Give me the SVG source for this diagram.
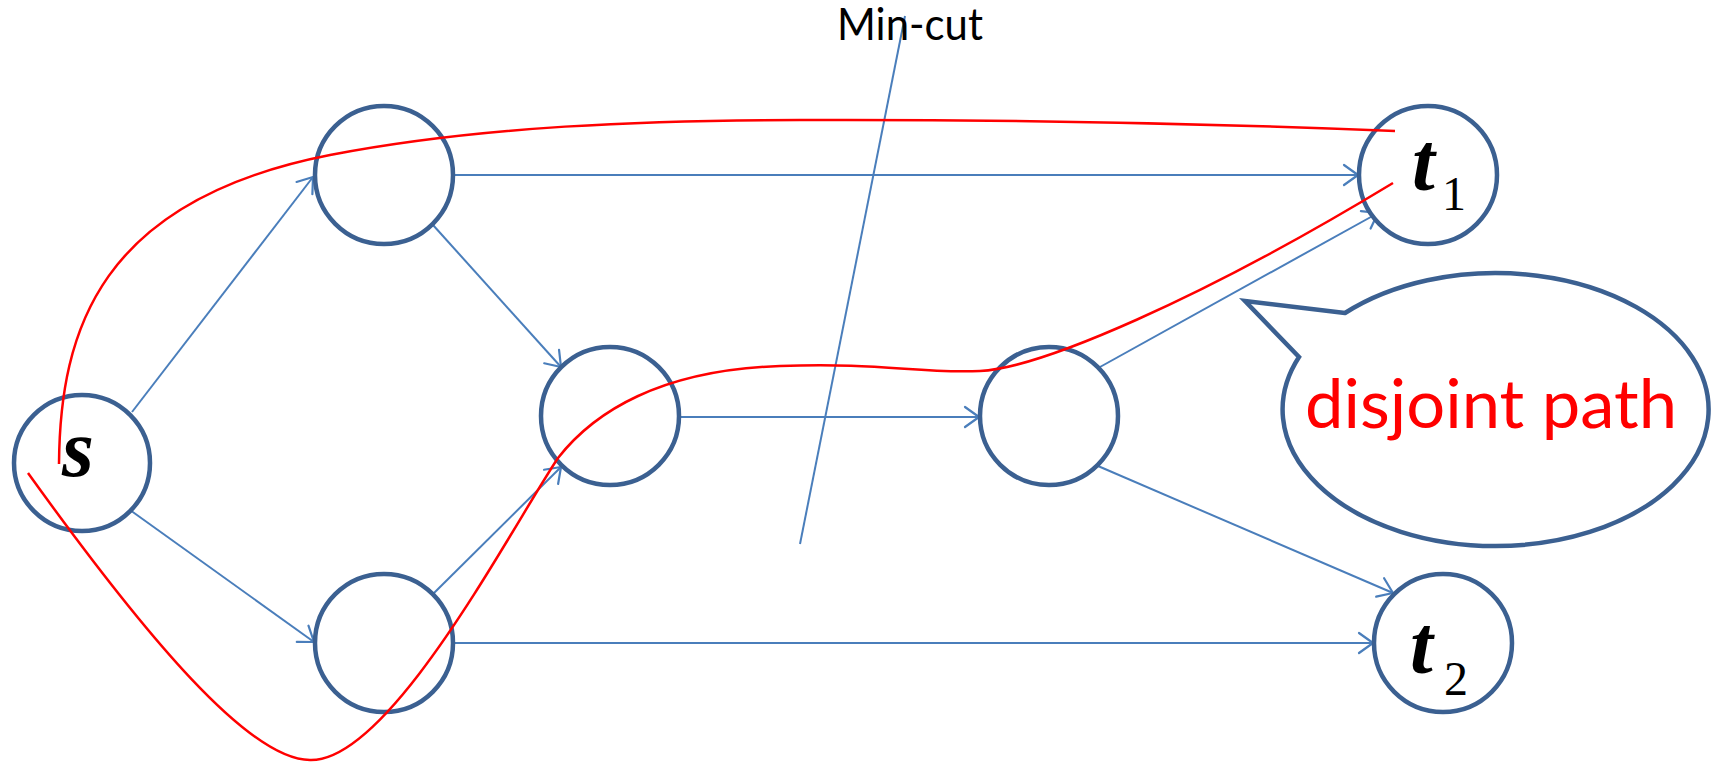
<svg xmlns="http://www.w3.org/2000/svg" width="1717" height="762" viewBox="0 0 1717 762">
<style>
.node{fill:#fff;stroke:#3B6091;stroke-width:4.5}
.edge{fill:none;stroke:#4A7EBB;stroke-width:2;marker-end:url(#arr)}
.red{fill:none;stroke:#FF0000;stroke-width:2.5}
.math{font-family:"Liberation Serif",serif;font-style:italic;font-weight:bold;font-size:82px;fill:#000}
.sub{font-family:"Liberation Serif",serif;font-size:48px;fill:#000}
</style>
<defs>
<marker id="arr" markerUnits="userSpaceOnUse" markerWidth="20" markerHeight="26" refX="16" refY="12" orient="auto" overflow="visible">
<path d="M2,2 L16,12 L2,22" fill="none" stroke="#4A7EBB" stroke-width="2.2" stroke-linejoin="round" stroke-linecap="round"/>
</marker>
</defs>
<rect width="1717" height="762" fill="#fff"/>
<g id="mincut">
<line x1="905" y1="16" x2="800" y2="544" stroke="#4A7EBB" stroke-width="2"/>
<text x="837" y="40" font-family="Lato, sans-serif" font-size="44" textLength="146" lengthAdjust="spacingAndGlyphs" fill="#000">Min-cut</text>
</g>
<g id="connectors">
<line class="edge" x1="132" y1="412" x2="313" y2="177"/>
<line class="edge" x1="130" y1="510" x2="314" y2="642"/>
<line class="edge" x1="433" y1="225" x2="561" y2="367"/>
<line class="edge" x1="434" y1="593" x2="561" y2="467"/>
<line class="edge" x1="453" y1="175" x2="1358" y2="175"/>
<line class="edge" x1="453" y1="643" x2="1373" y2="643"/>
<line class="edge" x1="680" y1="417" x2="979" y2="417"/>
<line class="edge" x1="1100" y1="367" x2="1378" y2="213"/>
<line class="edge" x1="1098" y1="466" x2="1393" y2="593"/>
</g>
<g id="node-s"><circle class="node" cx="82" cy="463" r="68"/><text class="math" x="62" y="476">s</text></g>
<g id="node-a"><circle class="node" cx="384" cy="175" r="69"/></g>
<g id="node-b"><circle class="node" cx="610" cy="416" r="69"/></g>
<g id="node-c"><circle class="node" cx="384" cy="643" r="69"/></g>
<g id="node-d"><circle class="node" cx="1049" cy="416" r="69"/></g>
<g id="node-t1"><circle class="node" cx="1428" cy="175" r="69"/><text class="math" x="1412" y="190">t</text><text class="sub" x="1442" y="210">1</text></g>
<g id="node-t2"><circle class="node" cx="1443" cy="643" r="69"/><text class="math" x="1410" y="673">t</text><text class="sub" x="1444" y="695">2</text></g>
<g id="red-paths">
<path class="red" d="M59,464 C60,330 100,200 330,155 C480,126 650,120 800,120 Q1100,119 1395,131"/>
<path class="red" d="M28,473 C148,640 250,760 310,760 C390,762 510,530 558,458 C594,412 660,370 780,366 C880,362 920,374 980,371 C1040,368 1200,300 1393,183"/>
</g>
<g id="callout">
<path d="M1345,313 L1245,301 L1299,357 A213,136.5 0 1 0 1345,313 Z" fill="#fff" stroke="#3B6091" stroke-width="4.5" stroke-linejoin="miter"/>
<text x="1305" y="428" font-family="Lato, sans-serif" font-size="68" textLength="372" lengthAdjust="spacingAndGlyphs" fill="#FF0000">disjoint path</text>
</g>
</svg>
